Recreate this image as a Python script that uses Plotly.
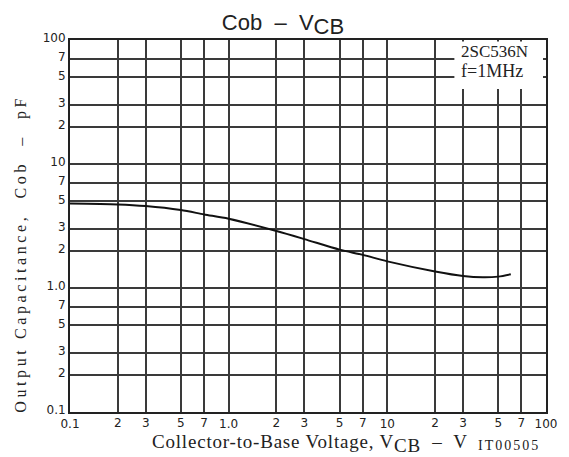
import plotly.graph_objects as go

# Data
vcb = [0.1, 0.2, 0.3, 0.5, 0.7, 1.0, 2, 3, 5, 7, 10, 20, 30, 40, 50, 60]
cob = [4.8, 4.72, 4.58, 4.25, 3.92, 3.62, 2.88, 2.48, 2.04, 1.85, 1.64, 1.36, 1.25, 1.22, 1.235, 1.29]

grid_vals = [0.1, 0.2, 0.3, 0.5, 0.7, 1, 2, 3, 5, 7, 10, 20, 30, 50, 70, 100]
x_minor_vals = [0.2, 0.3, 0.5, 0.7, 2, 3, 5, 7, 20, 30, 50, 70]
x_minor_text = ["2", "3", "5", "7", "2", "3", "5", "7", "2", "3", "5", "7"]
x_decade_vals = [0.1, 1, 10, 100]
x_decade_text = ["0.1", "1.0", "10", "100"]
y_tick_text = ["0.1", "2", "3", "5", "7", "1.0", "2", "3", "5", "7", "10", "2", "3", "5", "7", "100"]

GRID = "#3a3a3a"
FRAME = "#222222"
SANS = "DejaVu Sans"
SERIF = "Liberation Serif"

fig = go.Figure()
fig.add_trace(go.Scatter(x=vcb, y=cob, mode="lines",
                         line=dict(color="#111111", width=2, shape="spline", smoothing=0.8),
                         showlegend=False, hoverinfo="skip"))
# invisible trace to activate the second x axis (decade labels)
fig.add_trace(go.Scatter(x=[0.1], y=[1], xaxis="x2", mode="markers",
                         marker=dict(opacity=0), showlegend=False, hoverinfo="skip"))

fig.update_layout(
    width=569, height=457,
    margin=dict(l=70, r=21, t=40, b=45),
    paper_bgcolor="white", plot_bgcolor="white",
    title=dict(text="Cob  –  V<sub><span style='font-size:22px'>CB</span></sub>",
               x=283/569, xanchor="center", xref="container",
               y=1-22/457, yanchor="middle", yref="container",
               font=dict(family="Liberation Sans", size=22, color="#222")),
    xaxis=dict(type="log", range=[-1, 2], tickvals=x_minor_vals, ticktext=x_minor_text,
               showgrid=True, gridcolor=GRID, gridwidth=1.6,
               showline=True, linecolor=FRAME, linewidth=2, mirror=True,
               ticks="", tickfont=dict(family=SANS, size=12, color="#222"),
               ticklabelstandoff=-1, fixedrange=True),
    xaxis2=dict(type="log", range=[-1, 2], overlaying="x", side="bottom",
                tickvals=x_decade_vals, ticktext=x_decade_text,
                showgrid=True, gridcolor=GRID, gridwidth=1.6,
                showline=False, ticks="", ticklabelstandoff=3,
                tickfont=dict(family=SANS, size=12, color="#222"), fixedrange=True),
    yaxis=dict(type="log", range=[-1, 2], tickvals=grid_vals, ticktext=y_tick_text,
               showgrid=True, gridcolor=GRID, gridwidth=1.6,
               showline=True, linecolor=FRAME, linewidth=2, mirror=True,
               ticks="", tickfont=dict(family=SANS, size=12, color="#222"),
               ticklabelshift=-2, fixedrange=True),
)

# white label box in the top-right corner
fig.add_shape(type="rect", xref="paper", yref="paper",
              x0=(456-70)/478, x1=(545-70)/478, y0=(412-89)/372, y1=(412-41.5)/372,
              fillcolor="white", line=dict(width=0), layer="above")
fig.add_annotation(text="2SC536N", xref="paper", yref="paper",
                   x=(461-70)/478, y=(412-52)/372, xanchor="left", yanchor="middle",
                   showarrow=False, font=dict(family=SERIF, size=17, color="#222"))
fig.add_annotation(text="f=1MHz", xref="paper", yref="paper",
                   x=(461-70)/478, y=(412-71)/372, xanchor="left", yanchor="middle",
                   showarrow=False, font=dict(family=SERIF, size=18, color="#222"))

# axis titles
fig.add_annotation(text="<span style='letter-spacing:0.8px'>Collector-to-Base Voltage, V<sub><span style='font-size:19px'>CB</span></sub>  –  V</span>",
                   xref="paper", yref="paper", x=(311-70)/478, y=(412-443)/372,
                   xanchor="center", yanchor="middle", showarrow=False,
                   font=dict(family=SERIF, size=19, color="#222"))
fig.add_annotation(text="<span style='letter-spacing:2px'>IT00505</span>", xref="paper", yref="paper",
                   x=(511-70)/478, y=(412-446)/372, xanchor="center", yanchor="middle",
                   showarrow=False, font=dict(family=SERIF, size=14, color="#222"))
fig.add_annotation(text="<span style='letter-spacing:3.6px'>Output Capacitance,  Cob  –  pF</span>",
                   xref="paper", yref="paper",
                   x=(20-70)/478, y=(412-253.5)/372, textangle=-90,
                   xanchor="center", yanchor="middle", showarrow=False,
                   font=dict(family=SERIF, size=16, color="#222"))

fig.write_html("out.html", config={"displayModeBar": False},
               post_script="document.body.style.margin='0';document.body.style.overflow='hidden';")
